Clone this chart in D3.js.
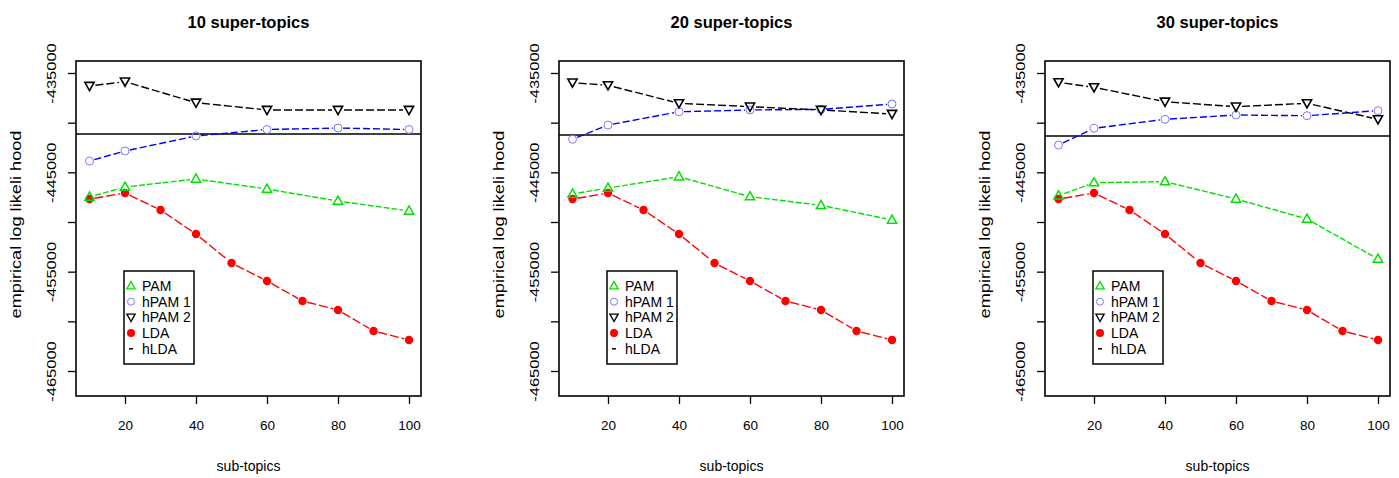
<!DOCTYPE html>
<meta charset="utf-8">
<style>
  body { margin: 0; background: #fff; }
  text { font-family: "Liberation Sans", Arial, Helvetica, sans-serif; fill: #000; }
  .title { font-size: 16.5px; font-weight: bold; text-anchor: middle; }
  .tick text { font-size: 13.5px; }
  .axis-label { font-size: 14px; text-anchor: middle; }
  .legend text { font-size: 14px; }
</style>
<svg width="1399" height="478"></svg>
<script src="https://d3js.org/d3.v7.min.js"></script>
<script>

  // sub-topic counts for PAM / hPAM runs, and for LDA
  var subTopics = [10, 20, 40, 60, 80, 100];
  var ldaTopics = [10, 20, 30, 40, 50, 60, 70, 80, 90, 100];

  var panelTitles = ["10 super-topics", "20 super-topics", "30 super-topics"];

  var pam10 = [-447480, -446480, -445670, -446680, -447890, -448890];
  var pam20 = [-447180, -446580, -445440, -447450, -448320, -449800];
  var pam30 = [-447350, -446040, -445940, -447680, -449700, -453730];

  var hpam1_10 = [-443860, -442850, -441340, -440690, -440540, -440690];
  var hpam1_20 = [-441670, -440240, -438900, -438720, -438660, -438120];
  var hpam1_30 = [-442250, -440570, -439660, -439230, -439300, -438790];

  var hpam2_10 = [-436310, -435870, -437990, -438720, -438720, -438720];
  var hpam2_20 = [-435970, -436240, -438050, -438390, -438720, -439130];
  var hpam2_30 = [-435940, -436440, -437890, -438390, -438050, -439660];

  var ldaValues = [-447690, -447080, -448790, -451210, -454130, -455940, -457950, -458860, -460970, -461880];
  var hldaValues = [-441140, -441240, -441340];

  var yTicks = [-435000, -440000, -445000, -450000, -455000, -460000, -465000];
  var yTickLabels = ["-435000", "", "-445000", "", "-455000", "", "-465000"];
  var xTicks = [20, 40, 60, 80, 100];

  var legendNames = ["PAM", "hPAM 1", "hPAM 2", "LDA", "hLDA"];

  var pamSets = [pam10, pam20, pam30],
      hpam1Sets = [hpam1_10, hpam1_20, hpam1_30],
      hpam2Sets = [hpam2_10, hpam2_20, hpam2_30];

  var svg = d3.select("svg");

  var panelLeft = [76, 559, 1045],
      panelTop = 61,
      width = 345,
      height = 335;

  var x = d3.scaleLinear().domain([20, 100]).range([49, 333]);
  var y = d3.scaleLinear().domain([-435000, -465000]).range([12, 310]);

  var triUp = "M0,-5L4.6,3.2L-4.6,3.2Z",
      triDown = "M0,4.6L-4.6,-3.6L4.6,-3.6Z";

  // lines like R type="b": segments stop short of each point
  function drawSegments(g, xs, ys, color, dash, gap) {
    for (var i = 0; i < xs.length - 1; i++) {
      var x0 = x(xs[i]), y0 = y(ys[i]), x1 = x(xs[i + 1]), y1 = y(ys[i + 1]);
      var dx = x1 - x0, dy = y1 - y0, len = Math.sqrt(dx * dx + dy * dy);
      if (len <= 2 * gap) continue;
      var ux = dx / len, uy = dy / len;
      g.append("line")
          .attr("x1", x0 + ux * gap).attr("y1", y0 + uy * gap)
          .attr("x2", x1 - ux * gap).attr("y2", y1 - uy * gap)
          .attr("stroke", color)
          .attr("stroke-width", 1.4)
          .attr("stroke-dasharray", dash);
    }
  }

  panelTitles.forEach(function(title, p) {
    var g = svg.append("g").attr("transform", "translate(" + panelLeft[p] + "," + panelTop + ")");

    svg.append("text").attr("class", "title")
        .attr("x", panelLeft[p] + width / 2).attr("y", 28)
        .text(title);

    // y axis
    var yAxis = g.append("g")
        .call(d3.axisLeft(y).tickValues(yTicks).tickSize(8)
          .tickFormat(function(d, i) { return yTickLabels[i]; }));
    yAxis.select(".domain").remove();
    yAxis.selectAll("line").attr("stroke-width", 1.3);
    yAxis.selectAll("text")
        .attr("x", 0).attr("y", -20).attr("dy", null)
        .attr("transform", "rotate(-90) scale(1.22,1)")
        .attr("text-anchor", "middle");

    // x axis
    var xAxis = g.append("g").attr("transform", "translate(0," + height + ")")
        .call(d3.axisBottom(x).tickValues(xTicks).tickSize(8));
    xAxis.select(".domain").remove();
    xAxis.selectAll("line").attr("stroke-width", 1.3);
    xAxis.selectAll("text").attr("y", 34).attr("dy", null);

    g.append("text").attr("class", "axis-label")
        .attr("x", width / 2).attr("y", height + 75)
        .text("sub-topics");

    g.append("text").attr("class", "axis-label")
        .attr("transform", "translate(-55," + (height / 2 - 4) + ") rotate(-90) scale(1.3,1)")
        .text("empirical log likeli hood");

    // hLDA baseline
    g.append("line")
        .attr("x1", 0).attr("x2", width)
        .attr("y1", y(hldaValues[p])).attr("y2", y(hldaValues[p]))
        .attr("stroke", "#000").attr("stroke-width", 1.5);

    // lines
    drawSegments(g, ldaTopics, ldaValues, "#ff0000", "9,3", 5);
    drawSegments(g, subTopics, pamSets[p], "#00e000", "6,2", 6);
    drawSegments(g, subTopics, hpam1Sets[p], "#0000ff", "7,3", 5);
    drawSegments(g, subTopics, hpam2Sets[p], "#000", "8,3", 6);

    // points
    g.selectAll(".lda").data(ldaTopics).enter().append("circle")
        .attr("cx", function(d) { return x(d); })
        .attr("cy", function(d, i) { return y(ldaValues[i]); })
        .attr("r", 4.2).attr("fill", "#ff0000");

    g.selectAll(".pam").data(subTopics).enter().append("path")
        .attr("d", triUp)
        .attr("transform", function(d, i) { return "translate(" + x(d) + "," + y(pamSets[p][i]) + ")"; })
        .attr("fill", "none").attr("stroke", "#00e000").attr("stroke-width", 1.5);

    g.selectAll(".hpam1").data(subTopics).enter().append("circle")
        .attr("cx", function(d) { return x(d); })
        .attr("cy", function(d, i) { return y(hpam1Sets[p][i]); })
        .attr("r", 4).attr("fill", "none").attr("stroke", "#7b7bff").attr("stroke-width", 1);

    g.selectAll(".hpam2").data(subTopics).enter().append("path")
        .attr("d", triDown)
        .attr("transform", function(d, i) { return "translate(" + x(d) + "," + y(hpam2Sets[p][i]) + ")"; })
        .attr("fill", "none").attr("stroke", "#000").attr("stroke-width", 1.6);

    // frame
    g.append("rect")
        .attr("width", width).attr("height", height)
        .attr("fill", "none").attr("stroke", "#000").attr("stroke-width", 1.6);

    // legend
    var lg = g.append("g").attr("class", "legend").attr("transform", "translate(48,210)");
    lg.append("rect").attr("width", 70).attr("height", 93)
        .attr("fill", "#fff").attr("stroke", "#000").attr("stroke-width", 1.5);
    var item = lg.selectAll(".item").data(legendNames).enter().append("g")
        .attr("transform", function(d, i) { return "translate(0," + (15 + i * 15.7) + ")"; });
    item.append("text").attr("x", 18).attr("y", 5).text(function(d) { return d; });
    item.each(function(d, i) {
      var s = d3.select(this);
      if (i === 0) s.append("path").attr("d", triUp).attr("transform", "translate(7,0) scale(0.9)")
          .attr("fill", "none").attr("stroke", "#00e000").attr("stroke-width", 1.5);
      if (i === 1) s.append("circle").attr("cx", 7).attr("r", 3.5)
          .attr("fill", "none").attr("stroke", "#7b7bff");
      if (i === 2) s.append("path").attr("d", triDown).attr("transform", "translate(7,0) scale(0.9)")
          .attr("fill", "none").attr("stroke", "#000").attr("stroke-width", 1.5);
      if (i === 3) s.append("circle").attr("cx", 7).attr("r", 4).attr("fill", "#ff0000");
      if (i === 4) s.append("line").attr("x1", 5).attr("x2", 9)
          .attr("stroke", "#000").attr("stroke-width", 1.5);
    });
  });

</script>
